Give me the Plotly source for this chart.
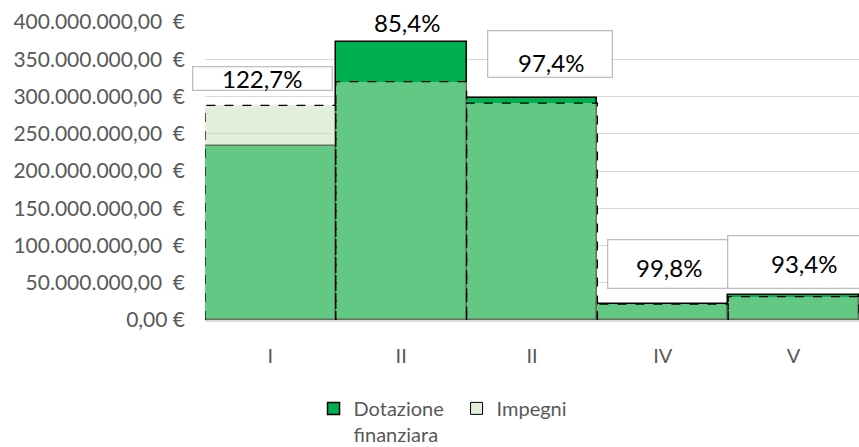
import plotly.graph_objects as go

# ---------------- data ----------------
categories = ["I", "II", "II", "IV", "V"]
dotazione = [234e6, 373e6, 298e6, 21.5e6, 33.5e6]
impegni = [288e6, 320e6, 291e6, 21.5e6, 31.3e6]
pct_labels = ["122,7%", "85,4%", "97,4%", "99,8%", "93,4%"]
y_ticks = [0, 50e6, 100e6, 150e6, 200e6, 250e6, 300e6, 350e6, 400e6]

FONT = "Lato, Calibri, sans-serif"
GRAY = "#595959"
IMP_FILL = "rgba(197,224,182,0.5)"

x_pos = list(range(len(categories)))


def euro(v):
    if v == 0:
        return "0,00\u00a0€"
    s = f"{v:,.2f}".replace(",", "X").replace(".", ",").replace("X", ".")
    return s + "\u00a0\u00a0€"


fig = go.Figure()

# ============ bars ============
fig.add_trace(go.Bar(x=x_pos, y=dotazione, width=1, name="Dotazione<br>finanziara",
                     marker=dict(color="#00B050", line=dict(color="black", width=1.5))))

fig.add_trace(go.Bar(x=x_pos, y=impegni, width=1, name="Impegni", showlegend=False,
                     marker=dict(color=IMP_FILL, line=dict(width=0))))

# legend entry for impegni
fig.add_trace(go.Bar(x=[None], y=[None], name="Impegni",
                     marker=dict(color="#E2EFDA", line=dict(color="black", width=1))))

# dashed outline for impegni
ox, oy = [], []
for i, v in zip(x_pos, impegni):
    ox += [i - 0.5, i - 0.5, i + 0.5, i + 0.5, None]
    oy += [0, v, v, 0, None]
fig.add_trace(go.Scatter(x=ox, y=oy, mode="lines", showlegend=False, hoverinfo="skip",
                         line=dict(color="black", width=1.3, dash="dash")))

# ============ percentage labels ============
# label boxes: (x, y, width px, height px); None = no box
label_boxes = [(-0.057, 323.5e6, 138, 22), None, (2.141, 357.7e6, 123, 45),
               (3.036, 75.8e6, 119, 47), (4.014, 78.5e6, 133, 51)]
# text centres
label_text_pos = [(-0.064, 324.8e6), (1.044, 399.5e6), (2.144, 346.3e6),
                  (3.046, 71.1e6), (4.078, 76.5e6)]

for box in label_boxes:
    if box is None:
        continue
    bx, by, bw, bh = box
    fig.add_annotation(x=bx, y=by, text="\u00a0", showarrow=False,
                       font=dict(size=8), bgcolor="white", bordercolor="#BFBFBF",
                       borderwidth=1.3, borderpad=0, width=bw, height=bh)

for txt, (tx, ty) in zip(pct_labels, label_text_pos):
    fig.add_annotation(x=tx, y=ty, text=txt, showarrow=False,
                       font=dict(family=FONT, size=24, color="black"))

fig.update_layout(
    width=859, height=447,
    margin=dict(l=205, r=0, t=22, b=127),
    paper_bgcolor="white", plot_bgcolor="white",
    barmode="overlay", bargap=0,
    font=dict(family=FONT, size=21, color=GRAY),
    legend=dict(orientation="h", xref="container", yref="container",
                x=0.365, xanchor="left", y=0.130, yanchor="top",
                font=dict(family=FONT, size=20, color=GRAY), itemwidth=30,
                entrywidth=98, entrywidthmode="pixels",
                valign="top", traceorder="normal"),
    xaxis=dict(range=[-0.5, 4.5], tickvals=x_pos, ticktext=categories,
               showgrid=False, showline=True, linecolor="#D9D9D9", linewidth=1.5,
               ticks="", tickfont=dict(size=20, color=GRAY), ticklabelstandoff=17,
               zeroline=False, automargin=False),
    yaxis=dict(range=[0, 400e6], tickvals=y_ticks, ticktext=[euro(v) for v in y_ticks],
               showgrid=True, gridcolor="#D9D9D9", gridwidth=1.3, zeroline=False,
               tickfont=dict(size=21, color=GRAY), ticklabelstandoff=19,
               automargin=False),
)

# page body has a default 8px margin; remove it so the figure sits at 0,0
fig.write_html("out.html", config={"displayModeBar": False},
               post_script="document.body.style.margin='0';")
